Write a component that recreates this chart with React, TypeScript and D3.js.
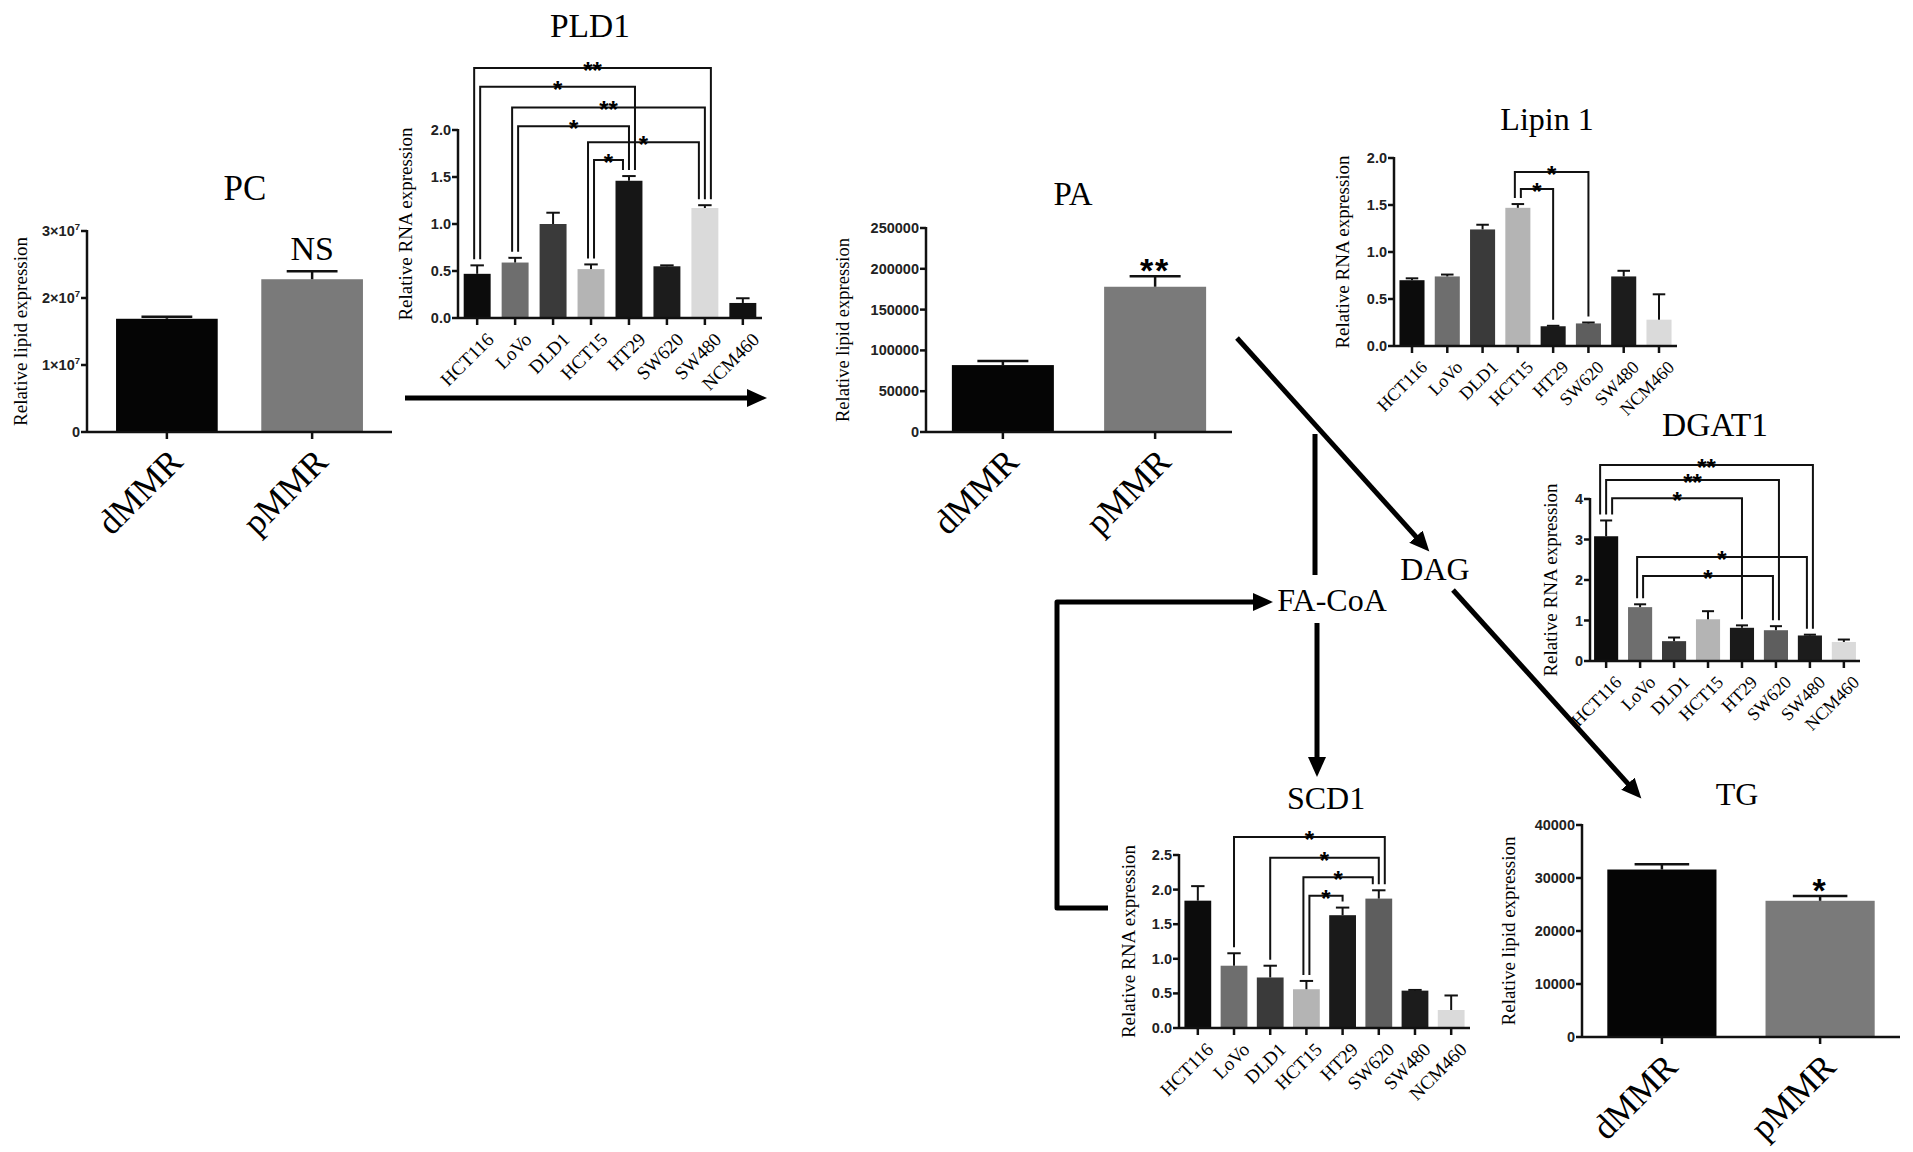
import React from 'react'
import * as d3 from 'd3'

// categories
const cellLines = ['HCT116', 'LoVo', 'DLD1', 'HCT15', 'HT29', 'SW620', 'SW480', 'NCM460']
const mmrGroups = ['dMMR', 'pMMR']

// lipid panels (mean, SEM)
const pcMean = [1.69e7, 2.28e7]
const pcErr = [0.03e7, 0.12e7]
const pcNote = ['', 'NS']
const paMean = [82000, 178000]
const paErr = [5000, 13000]
const paNote = ['', '**']
const tgMean = [31600, 25700]
const tgErr = [1000, 900]
const tgNote = ['', '*']

// RNA panels
const pld1Mean = [0.47, 0.59, 1.0, 0.52, 1.46, 0.55, 1.17, 0.16]
const pld1Err = [0.09, 0.05, 0.12, 0.05, 0.05, 0.01, 0.03, 0.05]
const lipinMean = [0.7, 0.74, 1.24, 1.47, 0.21, 0.24, 0.74, 0.28]
const lipinErr = [0.02, 0.02, 0.05, 0.04, 0.005, 0.01, 0.06, 0.27]
const dgatMean = [3.08, 1.33, 0.49, 1.03, 0.82, 0.76, 0.63, 0.47]
const dgatErr = [0.39, 0.07, 0.09, 0.2, 0.06, 0.1, 0.02, 0.06]
const scdMean = [1.84, 0.9, 0.73, 0.56, 1.63, 1.87, 0.54, 0.26]
const scdErr = [0.21, 0.18, 0.17, 0.12, 0.11, 0.12, 0.01, 0.21]

// significance brackets: [from, to, label, level in axis units]
const pld1Sig = [
  ['HCT116', 'SW480', '**', 2.66],
  ['HCT116', 'HT29', '*', 2.46],
  ['LoVo', 'SW480', '**', 2.24],
  ['LoVo', 'HT29', '*', 2.04],
  ['HCT15', 'SW480', '*', 1.87],
  ['HCT15', 'HT29', '*', 1.68],
]
const lipinSig = [
  ['HCT15', 'SW620', '*', 1.85],
  ['HCT15', 'HT29', '*', 1.67],
]
const dgatSig = [
  ['HCT116', 'SW480', '**', 4.84],
  ['HCT116', 'SW620', '**', 4.47],
  ['HCT116', 'HT29', '*', 4.02],
  ['LoVo', 'SW480', '*', 2.57],
  ['LoVo', 'SW620', '*', 2.1],
]
const scdSig = [
  ['LoVo', 'SW620', '*', 2.76],
  ['DLD1', 'SW620', '*', 2.46],
  ['HCT15', 'SW620', '*', 2.18],
  ['HCT15', 'HT29', '*', 1.91],
]

// tick values
const pcTicks = [0, 1e7, 2e7, 3e7]
const paTicks = [0, 50000, 100000, 150000, 200000, 250000]
const tgTicks = [0, 10000, 20000, 30000, 40000]
const rnaTicks = [0, 0.5, 1, 1.5, 2]
const dgatTicks = [0, 1, 2, 3, 4]
const scdTicks = [0, 0.5, 1, 1.5, 2, 2.5]

const mmrColors = ['#050505', '#7a7a7a']
const pld1Colors = ['#0c0c0c', '#6e6e6e', '#3a3a3a', '#b4b4b4', '#161616', '#1c1c1c', '#dadada', '#111111']
const cellColors = ['#0c0c0c', '#6e6e6e', '#3a3a3a', '#b4b4b4', '#1a1a1a', '#5e5e5e', '#1c1c1c', '#dadada']

const serif = '"Liberation Serif", "Times New Roman", serif'
const sans = '"Liberation Sans", Arial, sans-serif'

const fmt1 = d3.format('.1f')
const fmtInt = d3.format('d')
const fmtSci = (v) =>
  v === 0 ? '0' : (
    <>
      {v / 1e7}×10<tspan dy={-6} fontSize={9.5}>7</tspan>
    </>
  )

function legOffsets(sig, cats) {
  const offs = sig.map(() => [0, 0])
  cats.forEach((c) => {
    const ends = []
    sig.forEach((b, i) => {
      if (b[0] === c) ends.push({i, side: 0, key: -b[3]})
      if (b[1] === c) ends.push({i, side: 1, key: b[3]})
    })
    ends.sort((m, n) => m.key - n.key)
    ends.forEach((e, k) => {
      offs[e.i][e.side] = (k - (ends.length - 1) / 2) * 6
    })
  })
  return offs
}

function BarPanel({spec}) {
  const b = spec.box
  const x = d3
    .scaleBand()
    .domain(spec.cats)
    .range([b.x0, b.x1])
    .paddingInner(b.pi)
    .paddingOuter(b.po)
  const yMax = spec.ticks[spec.ticks.length - 1]
  const y = d3.scaleLinear().domain([0, yMax]).range([b.y0, b.yTop])
  const bw = x.bandwidth()
  const cx = (c) => x(c) + bw / 2
  const top = (c) => {
    const i = spec.cats.indexOf(c)
    return y(spec.mean[i] + spec.err[i])
  }
  const sig = spec.sig || []
  const offs = legOffsets(sig, spec.cats)
  const big = spec.cats.length === 2

  return (
    <g>
      <text x={b.titleX} y={b.titleY} textAnchor="middle" fontFamily={serif} fontSize={b.titleSize || 32}>
        {spec.title}
      </text>
      <text
        transform={`translate(${b.labelX},${(b.y0 + b.yTop) / 2}) rotate(-90)`}
        dy="0.35em"
        textAnchor="middle"
        fontFamily={serif}
        fontSize={b.labelSize || 19}
      >
        {spec.yLabel}
      </text>

      {spec.cats.map((c, i) => (
        <rect key={c} x={x(c)} width={bw} y={y(spec.mean[i])} height={b.y0 - y(spec.mean[i])} fill={spec.colors[i]} />
      ))}
      {spec.cats.map((c, i) => {
        const t = y(spec.mean[i] + spec.err[i])
        return (
          <g key={c} stroke="#111" strokeWidth={big ? 2.5 : 2}>
            <line x1={cx(c)} x2={cx(c)} y1={y(spec.mean[i])} y2={t} />
            <line x1={cx(c) - bw * 0.25} x2={cx(c) + bw * 0.25} y1={t} y2={t} />
          </g>
        )
      })}

      {/* axes */}
      <g stroke="#111" strokeWidth={2.5} fill="none">
        <line x1={b.x0} x2={b.x0} y1={b.yTop - 1} y2={b.y0 + 1} />
        <line x1={b.x0} x2={b.x1} y1={b.y0} y2={b.y0} />
        {spec.ticks.map((t) => (
          <line key={t} x1={b.x0 - 6} x2={b.x0} y1={y(t)} y2={y(t)} />
        ))}
        {spec.cats.map((c) => (
          <line key={c} x1={cx(c)} x2={cx(c)} y1={b.y0} y2={b.y0 + 7} />
        ))}
      </g>
      {spec.ticks.map((t) => (
        <text key={t} x={b.x0 - 7} y={y(t)} dy="0.35em" textAnchor="end" fontFamily={sans} fontWeight="bold" fontSize={14.5} fill="#222">
          {spec.tickFmt(t)}
        </text>
      ))}
      {spec.cats.map((c) => (
        <text
          key={c}
          transform={`translate(${cx(c) + b.catDx},${b.y0 + b.catDy}) rotate(-45)`}
          dy="0.35em"
          textAnchor="end"
          fontFamily={serif}
          fontSize={b.catSize}
        >
          {c}
        </text>
      ))}

      {/* single-group annotations */}
      {spec.note &&
        spec.cats.map((c, i) =>
          spec.note[i] ? (
            spec.note[i].startsWith('*') ? (
              <text key={c} x={cx(c)} y={top(c) + 6} textAnchor="middle" fontFamily={sans} fontWeight="bold" fontSize={34} letterSpacing={2}>
                {spec.note[i]}
              </text>
            ) : (
              <text key={c} x={cx(c)} y={top(c) - 11} textAnchor="middle" fontFamily={serif} fontSize={34}>
                {spec.note[i]}
              </text>
            )
          ) : null
        )}

      {/* brackets */}
      {sig.map((s, i) => {
        const xa = cx(s[0]) + offs[i][0]
        const xb = cx(s[1]) + offs[i][1]
        const ly = y(s[3])
        return (
          <g key={i}>
            <path
              d={`M${xa},${top(s[0]) - 6}V${ly}H${xb}V${top(s[1]) - 6}`}
              fill="none"
              stroke="#111"
              strokeWidth={2}
            />
            <text x={(xa + xb) / 2} y={ly + 11} textAnchor="middle" fontFamily={sans} fontWeight="bold" fontSize={24}>
              {s[2]}
            </text>
          </g>
        )
      })}
    </g>
  )
}

const panels = [
  {
    title: 'PC', cats: mmrGroups, mean: pcMean, err: pcErr, colors: mmrColors, ticks: pcTicks, tickFmt: fmtSci,
    yLabel: 'Relative lipid expression', note: pcNote,
    box: {x0: 87, x1: 392, y0: 432, yTop: 231, pi: 0.3, po: 0.2, titleX: 245, titleY: 200, titleSize: 35, labelX: 20, catSize: 35, catDx: 9, catDy: 23},
  },
  {
    title: 'PLD1', cats: cellLines, mean: pld1Mean, err: pld1Err, colors: pld1Colors, ticks: rnaTicks, tickFmt: fmt1,
    yLabel: 'Relative RNA expression', sig: pld1Sig,
    box: {x0: 458, x1: 762, y0: 318, yTop: 130, pi: 0.29, po: 0.15, titleX: 590, titleY: 37, titleSize: 33.5, labelX: 405, catSize: 19, catDx: 13, catDy: 18},
  },
  {
    title: 'PA', cats: mmrGroups, mean: paMean, err: paErr, colors: mmrColors, ticks: paTicks, tickFmt: fmtInt,
    yLabel: 'Relative lipid expression', note: paNote,
    box: {x0: 926, x1: 1232, y0: 432, yTop: 228, pi: 0.33, po: 0.17, titleX: 1073, titleY: 205, titleSize: 33, labelX: 843, labelSize: 18.5, catSize: 35, catDx: 9, catDy: 23},
  },
  {
    title: 'Lipin 1', cats: cellLines, mean: lipinMean, err: lipinErr, colors: cellColors, ticks: rnaTicks, tickFmt: fmt1,
    yLabel: 'Relative RNA expression', sig: lipinSig,
    box: {x0: 1394, x1: 1677, y0: 346, yTop: 158, pi: 0.29, po: 0.155, titleX: 1547, titleY: 130, labelX: 1342, catSize: 18, catDx: 12, catDy: 18},
  },
  {
    title: 'DGAT1', cats: cellLines, mean: dgatMean, err: dgatErr, colors: cellColors, ticks: dgatTicks, tickFmt: fmtInt,
    yLabel: 'Relative RNA expression', sig: dgatSig,
    box: {x0: 1590, x1: 1860, y0: 661, yTop: 499, pi: 0.29, po: 0.12, titleX: 1715, titleY: 436, titleSize: 33.5, labelX: 1550, catSize: 18, catDx: 12, catDy: 18},
  },
  {
    title: 'SCD1', cats: cellLines, mean: scdMean, err: scdErr, colors: cellColors, ticks: scdTicks, tickFmt: fmt1,
    yLabel: 'Relative RNA expression', sig: scdSig,
    box: {x0: 1179, x1: 1470, y0: 1028, yTop: 855, pi: 0.26, po: 0.15, titleX: 1326, titleY: 809, labelX: 1128, catSize: 19, catDx: 12, catDy: 18},
  },
  {
    title: 'TG', cats: mmrGroups, mean: tgMean, err: tgErr, colors: mmrColors, ticks: tgTicks, tickFmt: fmtInt,
    yLabel: 'Relative lipid expression', note: tgNote,
    box: {x0: 1582, x1: 1900, y0: 1037, yTop: 825, pi: 0.31, po: 0.16, titleX: 1737, titleY: 805, labelX: 1508, catSize: 35, catDx: 9, catDy: 23},
  },
]

// pathway arrows
const arrows = [
  {pts: [[405, 398], [765, 398]], head: true},
  {pts: [[1237, 338], [1428, 550]], head: true},
  {pts: [[1315, 434], [1315, 575]], head: false},
  {pts: [[1108, 908], [1057, 908], [1057, 602], [1271, 602]], head: true},
  {pts: [[1317, 623], [1317, 775]], head: true},
  {pts: [[1453, 590], [1640, 797]], head: true},
]

function Arrow({pts, head}) {
  const p = pts.map((d) => d.slice())
  if (head) {
    const n = p.length
    const [x1, y1] = p[n - 2]
    const [x2, y2] = p[n - 1]
    const len = Math.hypot(x2 - x1, y2 - y1)
    p[n - 1] = [x2 - ((x2 - x1) / len) * 12, y2 - ((y2 - y1) / len) * 12]
  }
  const line = d3.line()
  return (
    <path
      d={line(p)}
      fill="none"
      stroke="#000"
      strokeWidth={5}
      strokeLinejoin="round"
      markerEnd={head ? 'url(#head)' : undefined}
    />
  )
}

export default function App() {
  return (
    <svg width={1913} height={1152} style={{position: 'absolute', left: 0, top: 0, background: '#fff'}}>
      <defs>
        <marker id="head" markerUnits="userSpaceOnUse" markerWidth={22} markerHeight={20} refX={6} refY={9} orient="auto">
          <path d="M0,0L20,9L0,18Z" fill="#000" />
        </marker>
      </defs>
      <rect width={1913} height={1152} fill="#fff" />
      {panels.map((s) => (
        <BarPanel key={s.title} spec={s} />
      ))}
      {arrows.map((a, i) => (
        <Arrow key={i} pts={a.pts} head={a.head} />
      ))}
      <text x={1435} y={580} textAnchor="middle" fontFamily={serif} fontSize={32}>DAG</text>
      <text x={1332} y={611} textAnchor="middle" fontFamily={serif} fontSize={32}>FA-CoA</text>
    </svg>
  )
}
